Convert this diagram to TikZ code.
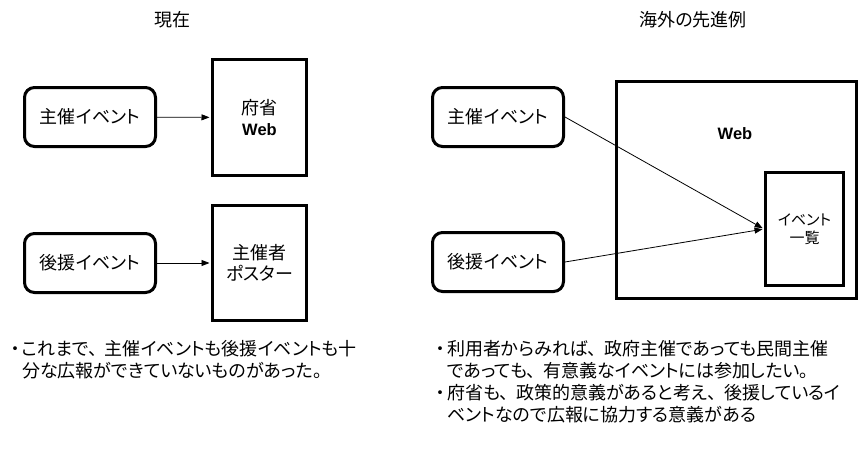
\documentclass[tikz,border=0pt]{standalone}
\usepackage{fontspec}
\setmainfont{Noto Sans CJK JP}[CharacterWidth=AlternateProportional]
\newfontfamily\webfont{Liberation Sans}
\usetikzlibrary{arrows.meta}
% full-width ideographic comma inside proportional text
\newcommand\fwcomma{、\kern0.42em}
\begin{document}
\begin{tikzpicture}[x=1pt,y=-1pt,
  evbox/.style={draw, line width=3pt, rounded corners=10pt, minimum width=131pt,
    minimum height=59pt, inner sep=0pt, font=\fontsize{18}{21}\selectfont},
  sqbox/.style={draw, line width=3pt, inner sep=0pt, align=center,
    font=\fontsize{18}{21}\selectfont},
  link/.style={-{Triangle[length=8pt,width=6pt]}, line width=0.8pt, shorten >=1.5pt},
  title/.style={font=\fontsize{18}{21}\selectfont, inner sep=0pt},
  note/.style={anchor=base west, inner sep=0pt, font=\fontsize{18}{22}\selectfont},
  dot/.style={anchor=base, inner sep=0pt, font=\fontsize{18}{22}\selectfont},
  weblabel/.style={font=\webfont\bfseries\fontsize{16.5}{20}\selectfont}]
\useasboundingbox (0,0) rectangle (859,453);

% --- current situation ---
\node[title] (tnow) at (172,20) {現在};
\node[evbox] (ev1) at (90,117) {主催イベント};
\node[sqbox, minimum width=94pt, minimum height=116pt] (web1) at (259.5,117.5)
  {府省\\{\webfont\bfseries\fontsize{16.5}{20}\selectfont Web}};
\node[evbox] (ev2) at (90,263) {後援イベント};
\node[sqbox, minimum width=94pt, minimum height=115pt] (poster) at (259.5,263)
  {主催者\\ポスター};
\draw[link] (ev1) -- (web1);
\draw[link] (ev2) -- (poster);

\node[dot] (b1) at (15,355) {・};
\node[note] (l1) at (22,355) {これまで\fwcomma 主催イベントも後援イベントも十};
\node[note] (l2) at (22,377) {分な広報ができていないものがあった。};

% --- example abroad ---
\node[title] (tabroad) at (693,20) {海外の先進例};
\node[evbox] (rev1) at (498,117) {主催イベント};
\node[evbox] (rev2) at (498,262) {後援イベント};
\node[sqbox, minimum width=240pt, minimum height=217pt] (webbig) at (736.5,190) {};
\node[weblabel] (webtxt) at (735,134) {Web};
\node[sqbox, minimum width=78pt, minimum height=113pt,
  font=\fontsize{15}{18}\selectfont] (list) at (804.5,229) {イベント\\一覧};
\draw[link] (rev1.east) -- (list.west);
\draw[link] (rev2.east) -- (list.west);

\node[dot] (b2) at (440,355) {・};
\node[note] (r1) at (447,355) {利用者からみれば\fwcomma 政府主催であっても民間主催};
\node[note] (r2) at (447,377) {であっても\fwcomma 有意義なイベントには参加したい。};
\node[dot] (b3) at (440,399) {・};
\node[note] (r3) at (447,399) {府省も\fwcomma 政策的意義があると考え\fwcomma 後援しているイ};
\node[note] (r4) at (447,421) {ベントなので広報に協力する意義がある};
\end{tikzpicture}
\end{document}
